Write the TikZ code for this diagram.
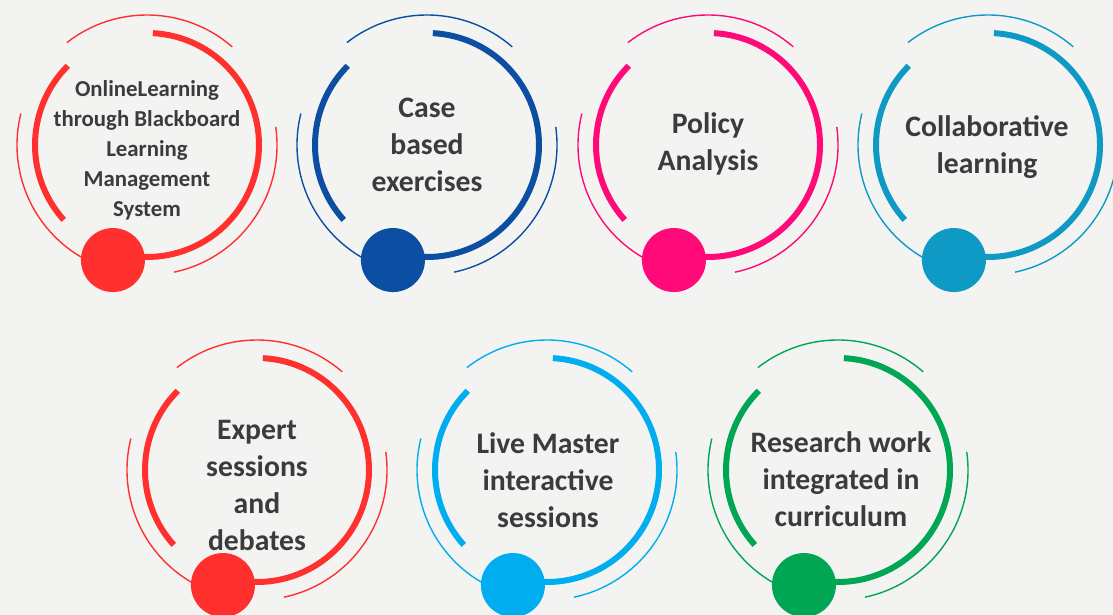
\documentclass[tikz,border=0pt]{standalone}
\usepackage{fontspec}
\setmainfont{Carlito}
\definecolor{bgcol}{HTML}{F3F4F2}
\definecolor{txtcol}{HTML}{3B3B3B}
\definecolor{redc}{HTML}{FF302E}
\definecolor{navyc}{HTML}{0B4EA2}
\definecolor{pinkc}{HTML}{FF0A78}
\definecolor{tealc}{HTML}{0E9AC5}
\definecolor{skyc}{HTML}{00AEEF}
\definecolor{greenc}{HTML}{00A653}
\begin{document}
\begin{tikzpicture}[x=1pt,y=1pt,
    thickarc/.style={line width=6pt},
    thinarc/.style={line width=1.4pt},
    badgetext/.style={font=\bfseries\fontsize{29.7}{37}\selectfont,text=txtcol,align=center},
    smalltext/.style={font=\bfseries\fontsize{22.8}{30}\selectfont,text=txtcol,align=center}]
    \useasboundingbox (0,0) rectangle (1113,615);
    \clip (0,0) rectangle (1113,615);
    \fill [bgcol] (0,0) rectangle (1113,615);
    % rings: centre x / centre y / colour
    \foreach \cx/\cy/\col in {147/470/redc,427/470/navyc,708/470/pinkc,988/470/tealc,
                              257/145/redc,547/145/skyc,838/145/greenc}{
    \begin{scope}[shift={(\cx,\cy)},draw=\col]
    \draw [thickarc] (87:112pt) arc[start angle=87,end angle=-107,radius=112pt];
    \draw [thickarc] (135:112pt) arc[start angle=135,end angle=222,radius=112pt];
    \draw [thinarc] (49:130pt) arc[start angle=49,end angle=128,radius=130pt];
    \draw [thinarc] (8:130pt) arc[start angle=8,end angle=-78,radius=130pt];
    \draw [thinarc] (166:130pt) arc[start angle=166,end angle=245,radius=130pt];
    \fill [\col] (253.5:120pt) circle[radius=32pt]; % dot
    \end{scope}
    }
    \node [smalltext] (online) at (147,465) {OnlineLearning\\through Blackboard\\Learning\\Management\\System};
    \node [badgetext] (casebased) at (427,470) {Case\\based\\exercises};
    \node [badgetext] (policy) at (708,471) {Policy\\Analysis};
    \node [badgetext] (collab) at (987,468) {Collaborative\\learning};
    \node [badgetext] (expert) at (257,130) {Expert\\sessions\\and\\debates};
    \node [badgetext] (livemaster) at (548,135) {Live Master\\interactive\\sessions};
    \node [badgetext] (research) at (841,136) {Research work\\integrated in\\curriculum};
\end{tikzpicture}
\end{document}
